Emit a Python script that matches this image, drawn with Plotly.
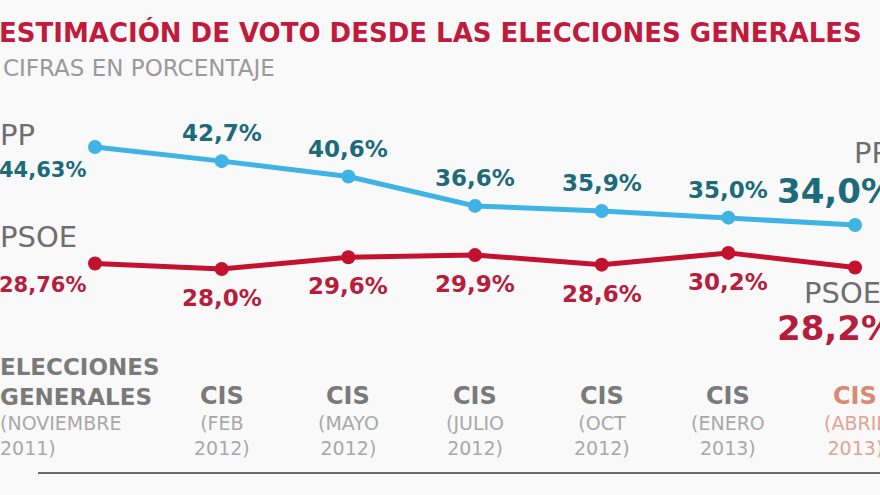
import plotly.graph_objects as go

# ---- data ----
categories = ["ELECCIONES GENERALES", "CIS", "CIS", "CIS", "CIS", "CIS", "CIS"]
dates = ["(NOVIEMBRE<br>2011)", "(FEB<br>2012)", "(MAYO<br>2012)", "(JULIO<br>2012)",
         "(OCT<br>2012)", "(ENERO<br>2013)", "(ABRIL<br>2013)"]
pp_values = [44.63, 42.7, 40.6, 36.6, 35.9, 35.0, 34.0]
psoe_values = [28.76, 28.0, 29.6, 29.9, 28.6, 30.2, 28.2]
pp_labels = ["44,63%", "42,7%", "40,6%", "36,6%", "35,9%", "35,0%", "34,0%"]
psoe_labels = ["28,76%", "28,0%", "29,6%", "29,9%", "28,6%", "30,2%", "28,2%"]
title = "ESTIMACIÓN DE VOTO DESDE LAS ELECCIONES GENERALES"
subtitle = "CIFRAS EN PORCENTAJE"

W, H = 880, 495
FONT = "DejaVu Sans, Verdana, sans-serif"
PP_LINE = "#3fb3e3"
PP_TEXT = "#1d6b7a"
PSOE_LINE = "#c3122f"
PSOE_TEXT = "#b51e3c"
GRAY = "#6e6e6e"
LIGHT = "#9a9a9a"

xs = list(range(len(categories)))

fig = go.Figure()
fig.add_trace(go.Scatter(x=xs, y=pp_values, mode="lines+markers",
                         line=dict(color=PP_LINE, width=5),
                         marker=dict(color=PP_LINE, size=14), hoverinfo="skip"))
fig.add_trace(go.Scatter(x=xs, y=psoe_values, mode="lines+markers",
                         line=dict(color=PSOE_LINE, width=5),
                         marker=dict(color=PSOE_LINE, size=14), hoverinfo="skip"))

def px(p):
    return p / W

def py(p):
    return 1 - p / H

ann = []
# title / subtitle
ann.append(dict(text="<b>" + title + "</b>", x=px(-3), y=py(33), xref="paper", yref="paper",
                xanchor="left", yanchor="middle", showarrow=False,
                font=dict(family=FONT, size=26, color="#c01a3c")))
ann.append(dict(text=subtitle, x=px(1), y=py(68), xref="paper", yref="paper",
                xanchor="left", yanchor="middle", showarrow=False,
                font=dict(family=FONT, size=23, color=LIGHT)))

# middle data labels
for i in range(1, len(xs) - 1):
    ann.append(dict(text="<b>" + pp_labels[i] + "</b>", x=xs[i], y=pp_values[i],
                    xref="x", yref="y", yshift=28, showarrow=False,
                    font=dict(family=FONT, size=23, color=PP_TEXT)))
    ann.append(dict(text="<b>" + psoe_labels[i] + "</b>", x=xs[i], y=psoe_values[i],
                    xref="x", yref="y", yshift=-29, showarrow=False,
                    font=dict(family=FONT, size=23, color=PSOE_TEXT)))

# left labels (first point)
ann.append(dict(text="PP", x=px(-2), y=py(135), xref="paper", yref="paper",
                xanchor="left", yanchor="middle", showarrow=False,
                font=dict(family=FONT, size=29, color=GRAY)))
ann.append(dict(text="<b>" + pp_labels[0] + "</b>", x=px(88), y=py(170), xref="paper", yref="paper",
                xanchor="right", yanchor="middle", showarrow=False,
                font=dict(family=FONT, size=21, color=PP_TEXT)))
ann.append(dict(text="PSOE", x=px(-2), y=py(237), xref="paper", yref="paper",
                xanchor="left", yanchor="middle", showarrow=False,
                font=dict(family=FONT, size=29, color=GRAY)))
ann.append(dict(text="<b>" + psoe_labels[0] + "</b>", x=px(88), y=py(285), xref="paper", yref="paper",
                xanchor="right", yanchor="middle", showarrow=False,
                font=dict(family=FONT, size=21, color=PSOE_TEXT)))

# right labels (last point)
ann.append(dict(text="PP", x=px(852), y=py(153), xref="paper", yref="paper",
                xanchor="left", yanchor="middle", showarrow=False,
                font=dict(family=FONT, size=29, color=GRAY)))
ann.append(dict(text="<b>" + pp_labels[-1] + "</b>", x=px(775), y=py(191), xref="paper", yref="paper",
                xanchor="left", yanchor="middle", showarrow=False,
                font=dict(family=FONT, size=34, color=PP_TEXT)))
ann.append(dict(text="PSOE", x=px(802), y=py(293), xref="paper", yref="paper",
                xanchor="left", yanchor="middle", showarrow=False,
                font=dict(family=FONT, size=29, color=GRAY)))
ann.append(dict(text="<b>" + psoe_labels[-1] + "</b>", x=px(775), y=py(328), xref="paper", yref="paper",
                xanchor="left", yanchor="middle", showarrow=False,
                font=dict(family=FONT, size=34, color=PSOE_TEXT)))

# category labels
for i, (cat, dt) in enumerate(zip(categories, dates)):
    last = i == len(categories) - 1
    ccol = "#d98a74" if last else "#7a7a7a"
    dcol = "#e2a493" if last else "#a8a8a8"
    if i == 0:
        ann.append(dict(text="<b>" + cat.replace(" ", "<br>") + "</b>", x=px(-2), y=py(382),
                        xref="paper", yref="paper", xanchor="left", yanchor="middle",
                        align="left", showarrow=False,
                        font=dict(family=FONT, size=23, color=ccol)))
        ann.append(dict(text=dt, x=px(-2), y=py(435), xref="paper", yref="paper",
                        xanchor="left", yanchor="middle", align="left", showarrow=False,
                        font=dict(family=FONT, size=19, color=dcol)))
    else:
        ann.append(dict(text="<b>" + cat + "</b>", x=xs[i], y=py(396), xref="x", yref="paper",
                        xanchor="center", yanchor="middle", showarrow=False,
                        font=dict(family=FONT, size=24, color=ccol)))
        ann.append(dict(text=dt, x=xs[i], y=py(435), xref="x", yref="paper",
                        xanchor="center", yanchor="middle", showarrow=False,
                        font=dict(family=FONT, size=19, color=dcol)))

shapes = [
    dict(type="line", xref="paper", yref="paper", x0=px(38), x1=1, y0=py(473), y1=py(473),
         line=dict(color="#6a6a6a", width=2)),
]

fig.update_layout(
    width=W, height=H,
    margin=dict(l=0, r=0, t=0, b=0),
    paper_bgcolor="#f9f9fa", plot_bgcolor="rgba(0,0,0,0)",
    showlegend=False,
    xaxis=dict(range=[-0.75, 6.197], visible=False, fixedrange=True),
    yaxis=dict(range=[34 - (H - 225) / 7.34, 34 + 225 / 7.34], visible=False, fixedrange=True),
    annotations=ann, shapes=shapes,
)

fig.write_html("out.html", config={"displayModeBar": False},
               post_script="document.body.style.margin='0';")
